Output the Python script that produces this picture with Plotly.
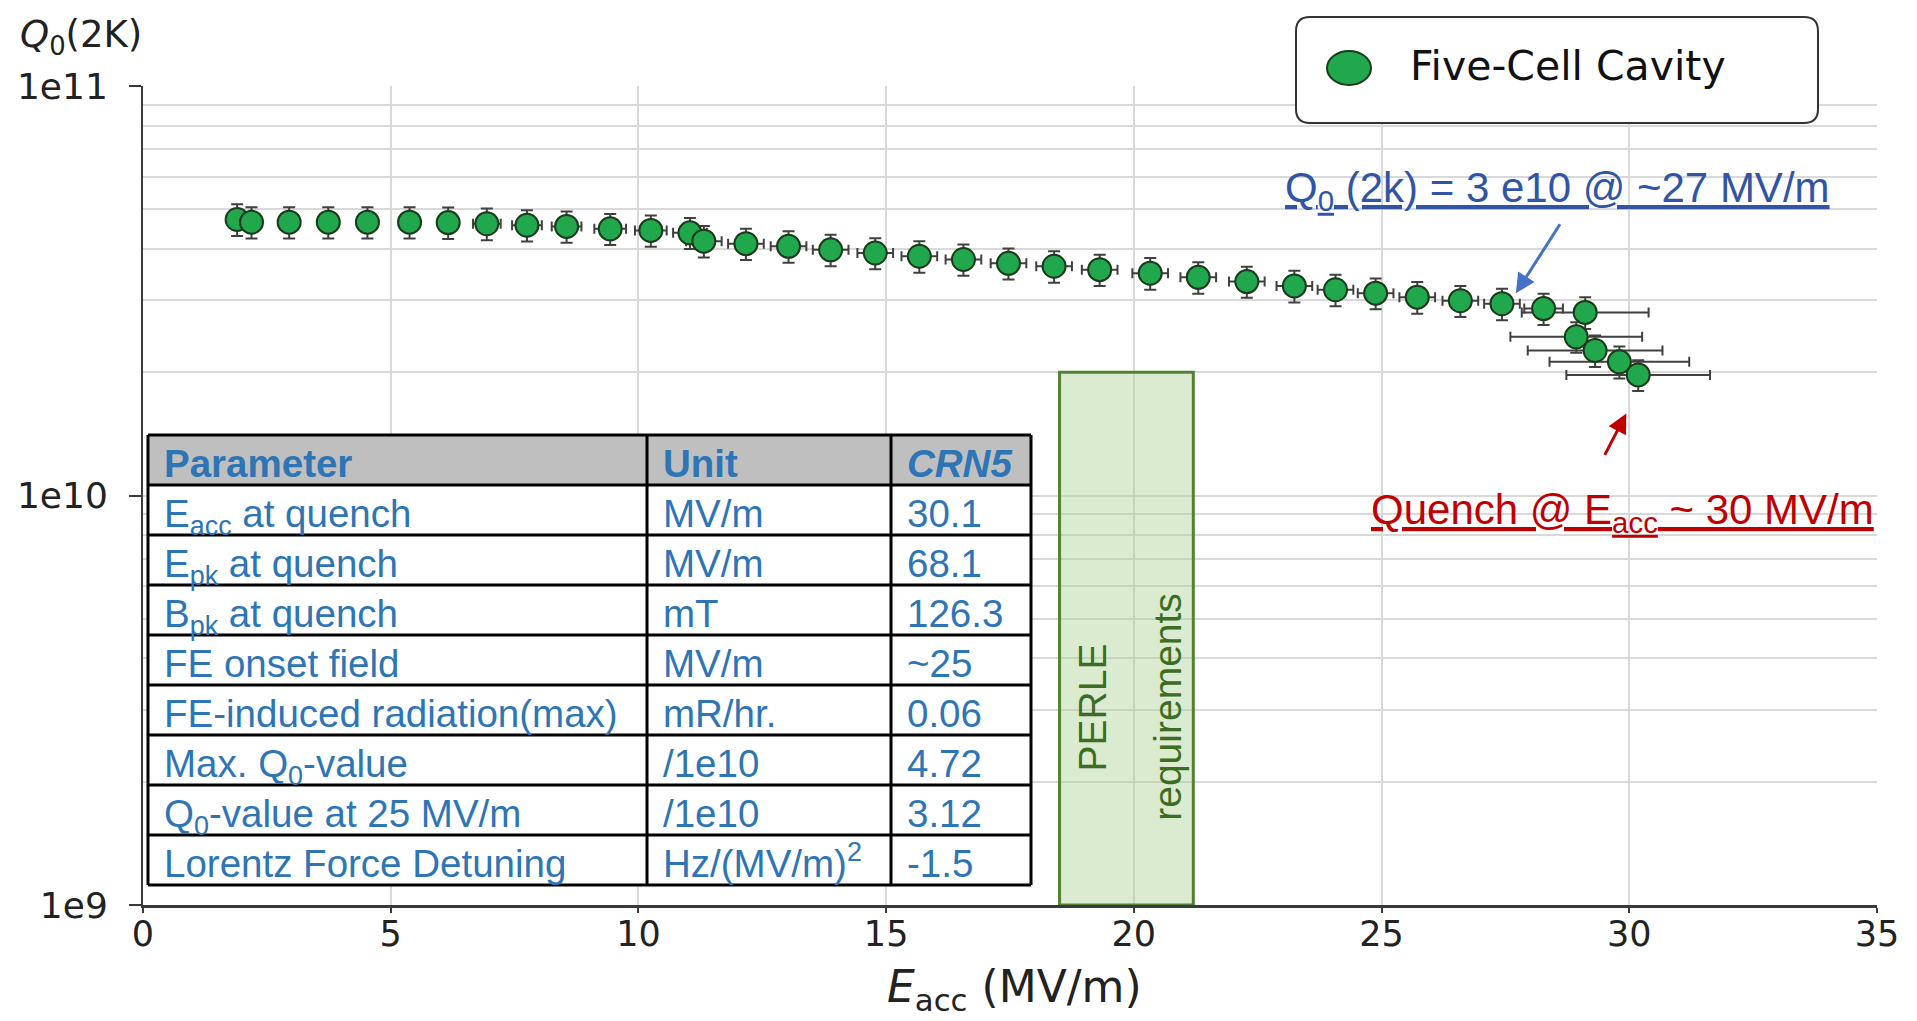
import plotly.graph_objects as go

# Q0(2K) vs Eacc, five-cell cavity (CRN5)
e_acc = [1.90, 2.19, 2.95, 3.74, 4.53, 5.38, 6.16, 6.94, 7.75, 8.55, 9.43, 10.25, 11.04,
         11.32, 12.17, 13.03, 13.88, 14.78, 15.67, 16.56, 17.47, 18.39, 19.31, 20.33,
         21.30, 22.28, 23.24, 24.07, 24.88, 25.72, 26.59, 27.43, 28.27, 29.11,
         28.93, 29.31, 29.80, 30.18]
e_acc_err = [0.05, 0.06, 0.08, 0.10, 0.12, 0.14, 0.20, 0.28, 0.30, 0.30, 0.32, 0.32, 0.34,
             0.36, 0.36, 0.36, 0.36, 0.36, 0.36, 0.36, 0.36, 0.36, 0.36, 0.36,
             0.36, 0.36, 0.36, 0.36, 0.36, 0.36, 0.36, 0.36, 0.39, 1.28,
             1.33, 1.36, 1.41, 1.45]
q0 = [4.72e10, 4.65e10, 4.65e10, 4.65e10, 4.65e10, 4.65e10, 4.64e10, 4.61e10, 4.57e10,
      4.54e10, 4.48e10, 4.44e10, 4.38e10, 4.18e10, 4.12e10, 4.06e10, 3.98e10, 3.91e10,
      3.84e10, 3.77e10, 3.69e10, 3.63e10, 3.56e10, 3.49e10, 3.41e10, 3.33e10, 3.25e10,
      3.18e10, 3.12e10, 3.05e10, 2.99e10, 2.94e10, 2.86e10, 2.80e10,
      2.44e10, 2.26e10, 2.12e10, 1.97e10]
q0_err = [0.42e10, 0.41e10, 0.41e10, 0.41e10, 0.41e10, 0.41e10, 0.41e10, 0.41e10, 0.40e10,
          0.40e10, 0.39e10, 0.39e10, 0.38e10, 0.37e10, 0.36e10, 0.36e10, 0.35e10, 0.34e10,
          0.34e10, 0.33e10, 0.32e10, 0.32e10, 0.31e10, 0.31e10, 0.30e10, 0.29e10, 0.29e10,
          0.28e10, 0.27e10, 0.27e10, 0.26e10, 0.26e10, 0.25e10, 0.25e10,
          0.21e10, 0.20e10, 0.19e10, 0.17e10]

# PERLE requirement band
perle_e_acc = [18.5, 21.2]
perle_q0 = [1e9, 2e10]

# summary table
table_header = ["<b>Parameter</b>", "<b>Unit</b>", "<b><i>CRN5</i></b>"]
table_parameter = ["E<sub>acc</sub> at quench", "E<sub>pk</sub> at quench", "B<sub>pk</sub> at quench",
                   "FE onset field", "FE-induced radiation(max)", "Max. Q<sub>0</sub>-value",
                   "Q<sub>0</sub>-value at 25 MV/m", "Lorentz Force Detuning"]
table_unit = ["MV/m", "MV/m", "mT", "MV/m", "mR/hr.", "/1e10", "/1e10", "Hz/(MV/m)<sup>2</sup>"]
table_crn5 = ["30.1", "68.1", "126.3", "~25", "0.06", "4.72", "3.12", "-1.5"]

y_ticks = [1e9, 1e10, 1e11]
y_ticktext = ["1e9", "1e10", "1e11"]
y_minor = [m * 10 ** p for p in (9, 10) for m in range(2, 10)]

# page body has an 8px margin, so the figure is 8px smaller and everything is
# laid out in screen pixels below
OFF = 8
W, H = 1917 - OFF, 1021 - OFF
ML, MR, MT, MB = 143 - OFF, 40, 86 - OFF, 116
PW, PH = W - ML - MR, H - MT - MB

def px(x):
    return (x - OFF - ML) / PW

def py(y):
    return (H - MB - (y - OFF)) / PH

TABLE_BLUE = "#2e75b6"
TABLE_FONT = "Liberation Sans"
grid = "#d9d9d9"

fig = go.Figure()

fig.add_trace(go.Scatter(
    x=[perle_e_acc[0], perle_e_acc[1], perle_e_acc[1], perle_e_acc[0], perle_e_acc[0]],
    y=[perle_q0[0], perle_q0[0], perle_q0[1], perle_q0[1], perle_q0[0]],
    mode="lines", fill="toself", fillcolor="rgba(169,208,142,0.42)",
    line=dict(color="#548235", width=3), hoverinfo="skip", showlegend=False))

fig.add_trace(go.Scatter(
    x=e_acc, y=q0, mode="markers", name="Five-Cell Cavity",
    marker=dict(size=23, color="#22a84c", line=dict(color="#1c3a1c", width=2)),
    error_y=dict(type="data", array=q0_err, color="#404040", thickness=2, width=6),
    error_x=dict(type="data", array=e_acc_err, color="#404040", thickness=2, width=5),
    showlegend=False))

fig.update_layout(
    width=W, height=H, margin=dict(l=ML, r=MR, t=MT, b=MB, autoexpand=False),
    paper_bgcolor="white", plot_bgcolor="white", showlegend=False,
    xaxis=dict(range=[0, 35], dtick=5, tick0=0, showgrid=True, gridcolor=grid, gridwidth=1.5,
               zeroline=False, showline=True, linecolor="#3a3a3a", linewidth=3,
               ticks="outside", ticklen=5, tickwidth=2, tickcolor="#3a3a3a", ticklabelstandoff=-9,
               tickfont=dict(family="DejaVu Sans", size=35, color="#222")),
    yaxis=dict(type="log", range=[9, 11], tickmode="array", tickvals=y_ticks, ticktext=y_ticktext,
               showgrid=True, gridcolor=grid, gridwidth=1.5, zeroline=False,
               showline=True, linecolor="#3a3a3a", linewidth=2,
               ticks="outside", ticklen=12, tickwidth=2, tickcolor="#3a3a3a", ticklabelstandoff=14,
               tickfont=dict(family="DejaVu Sans", size=36, color="#222"),
               minor=dict(tickmode="array", tickvals=y_minor, showgrid=True, gridcolor=grid,
                          gridwidth=1.5, ticks="")),
)

# ---- summary table (built from the table lists) ----
T_LEFT, T_RIGHT, T_TOP, ROW_H = 148, 1031, 435, 50
col_edges = [T_LEFT, 647, 891, T_RIGHT]
n_rows = len(table_parameter)
T_BOTTOM = T_TOP + ROW_H * (n_rows + 1)

fig.add_shape(type="rect", xref="paper", yref="paper", layer="above",
              x0=px(T_LEFT), x1=px(T_RIGHT), y0=py(T_TOP + ROW_H), y1=py(T_BOTTOM),
              fillcolor="white", line=dict(width=0))
fig.add_shape(type="rect", xref="paper", yref="paper",
              x0=px(T_LEFT), x1=px(T_RIGHT), y0=py(T_TOP), y1=py(T_TOP + ROW_H),
              fillcolor="#bfbfbf", line=dict(width=0))
for i in range(n_rows + 2):
    yy = py(T_TOP + i * ROW_H)
    fig.add_shape(type="line", xref="paper", yref="paper", x0=px(T_LEFT), x1=px(T_RIGHT),
                  y0=yy, y1=yy, line=dict(color="black", width=3))
for xe in col_edges:
    fig.add_shape(type="line", xref="paper", yref="paper", x0=px(xe), x1=px(xe),
                  y0=py(T_TOP), y1=py(T_BOTTOM), line=dict(color="black", width=3))

for j, head in enumerate(table_header):
    fig.add_annotation(text=head, xref="paper", yref="paper", x=px(col_edges[j] + 14),
                       y=py(T_TOP + 5), xanchor="left", yanchor="top", showarrow=False,
                       font=dict(family=TABLE_FONT, size=38.5, color=TABLE_BLUE))
for j, col in enumerate([table_parameter, table_unit, table_crn5]):
    fig.add_annotation(text="<br>".join(col), xref="paper", yref="paper", x=px(col_edges[j] + 14),
                       y=py(T_TOP + ROW_H + 5), xanchor="left", yanchor="top", align="left",
                       showarrow=False,
                       font=dict(family=TABLE_FONT, size=38.5, color=TABLE_BLUE))

# ---- legend box drawn by hand (rounded corners, large marker) ----
x0, x1, y0, y1 = px(1296), px(1818), py(123), py(17)
rx, ry = 14 / PW, 14 / PH
legend_path = (f"M {x0+rx},{y0} L {x1-rx},{y0} Q {x1},{y0} {x1},{y0+ry} L {x1},{y1-ry} "
               f"Q {x1},{y1} {x1-rx},{y1} L {x0+rx},{y1} Q {x0},{y1} {x0},{y1-ry} "
               f"L {x0},{y0+ry} Q {x0},{y0} {x0+rx},{y0} Z")
fig.add_shape(type="path", path=legend_path, xref="paper", yref="paper",
              line=dict(color="#333", width=2), fillcolor="white")
fig.add_shape(type="circle", xref="paper", yref="paper",
              x0=px(1327), x1=px(1371), y0=py(85), y1=py(51),
              fillcolor="#22a84c", line=dict(color="#1c3a1c", width=2))
fig.add_annotation(text="Five-Cell Cavity", xref="paper", yref="paper", x=px(1408), y=py(66),
                   xanchor="left", yanchor="middle", showarrow=False,
                   font=dict(family="DejaVu Sans", size=41, color="#111"))

# ---- axis titles ----
fig.add_annotation(text="<i>Q</i><sub>0</sub>(2K)", xref="paper", yref="paper", x=px(18), y=py(37),
                   xanchor="left", yanchor="middle", showarrow=False,
                   font=dict(family="DejaVu Sans", size=37, color="#222"))
fig.add_annotation(text="<i>E</i><sub>acc</sub> (MV/m)", xref="paper", yref="paper", x=px(1014), y=py(1020),
                   xanchor="center", yanchor="bottom", showarrow=False,
                   font=dict(family="DejaVu Sans", size=44, color="#222"))

# ---- PERLE band labels ----
fig.add_annotation(text="PERLE", x=19.16, y=9.483, textangle=-90, showarrow=False,
                   font=dict(family="Liberation Sans", size=39, color="#3b6e22"))
fig.add_annotation(text="requirements", x=20.68, y=9.483, textangle=-90, showarrow=False,
                   font=dict(family="Liberation Sans", size=39, color="#3b6e22"))

# ---- callouts ----
fig.add_annotation(text="<u>Q<sub>0</sub> (2k) = 3 e10 @ ~27 MV/m</u>", xref="paper", yref="paper",
                   x=px(1557), y=py(190), xanchor="center", yanchor="middle", showarrow=False,
                   font=dict(family="Liberation Sans", size=42, color="#2f55a4"))
fig.add_annotation(text="", x=27.71, y=10.494, ax=28.62, ay=10.666, axref="x", ayref="y",
                   showarrow=True, arrowhead=2, arrowsize=1.3, arrowwidth=3, arrowcolor="#4472c4")
fig.add_annotation(text="<u>Quench @ E<sub>acc</sub> ~ 30 MV/m</u>", xref="paper", yref="paper",
                   x=px(1622), y=py(513), xanchor="center", yanchor="middle", showarrow=False,
                   font=dict(family="Liberation Sans", size=42, color="#c00000"))
fig.add_annotation(text="", x=29.94, y=10.2005, ax=29.49, ay=10.0955, axref="x", ayref="y",
                   showarrow=True, arrowhead=2, arrowsize=1.3, arrowwidth=3, arrowcolor="#c00000")

fig.write_html("out.html")
